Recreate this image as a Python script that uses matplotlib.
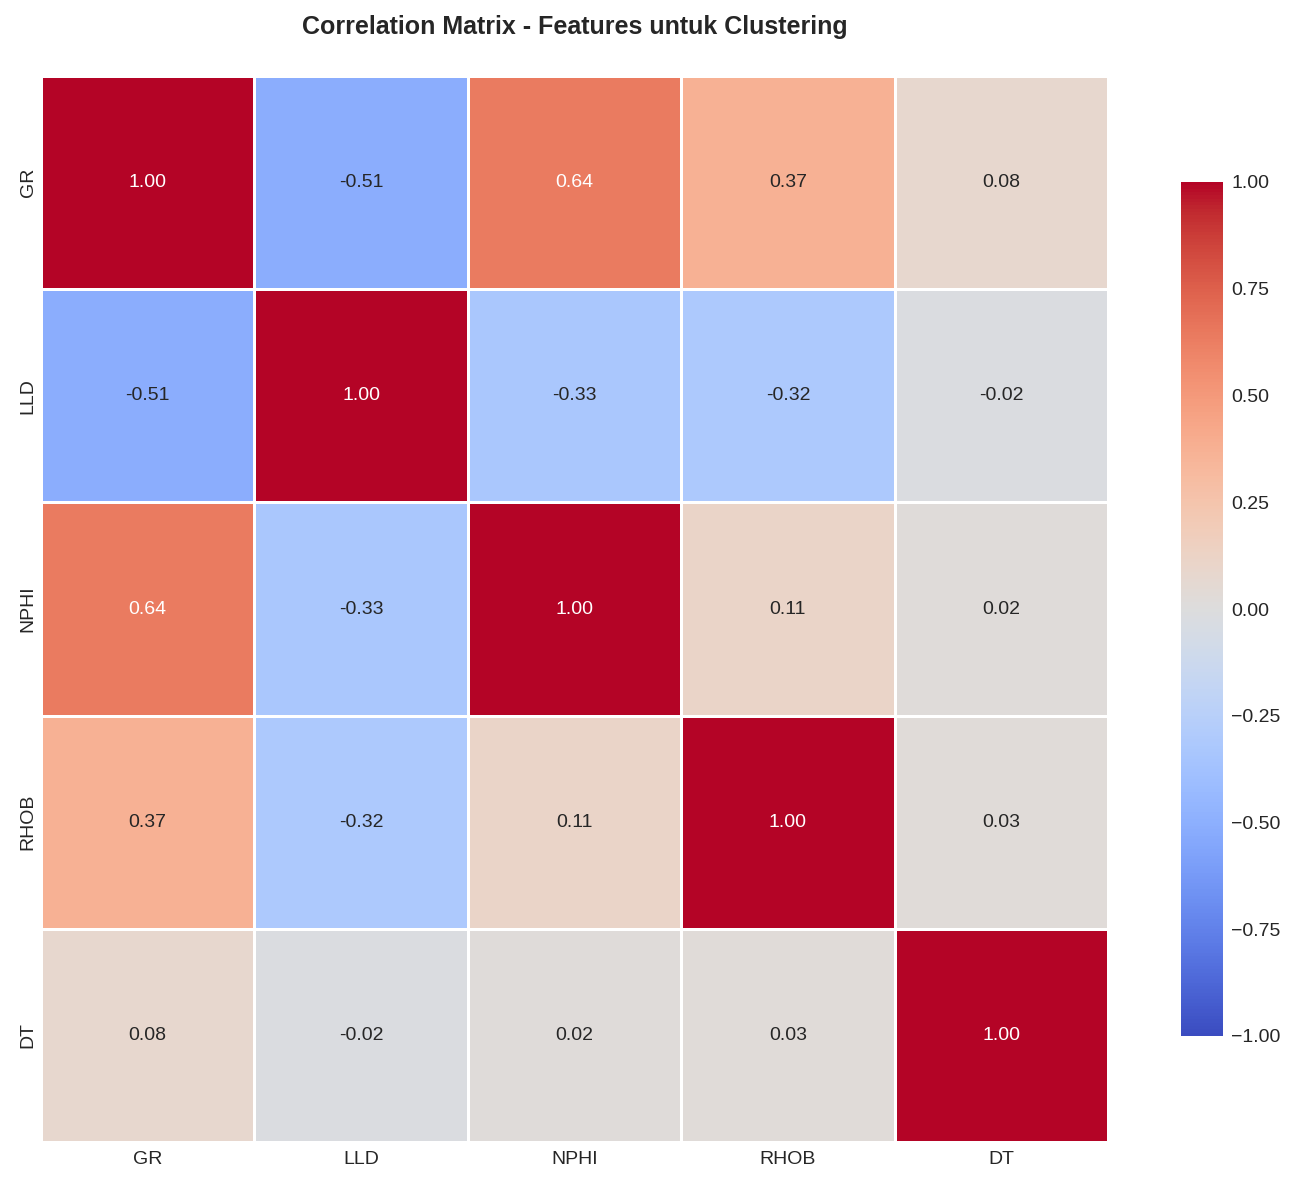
import matplotlib
matplotlib.use("Agg")
import matplotlib.pyplot as plt
import seaborn as sns
import numpy as np
import pandas as pd

features = ["GR", "LLD", "NPHI", "RHOB", "DT"]
row_GR = [1.00, -0.51, 0.64, 0.37, 0.08]
row_LLD = [-0.51, 1.00, -0.33, -0.32, -0.02]
row_NPHI = [0.64, -0.33, 1.00, 0.11, 0.02]
row_RHOB = [0.37, -0.32, 0.11, 1.00, 0.03]
row_DT = [0.08, -0.02, 0.02, 0.03, 1.00]

corr = pd.DataFrame([row_GR, row_LLD, row_NPHI, row_RHOB, row_DT],
                    index=features, columns=features)

plt.style.use("seaborn-v0_8-whitegrid")
plt.rcParams['font.family'] = ['Liberation Sans', 'DejaVu Sans']

fig = plt.figure(figsize=(12.98, 11.84), dpi=100)
ax = fig.add_axes([41/1298, 1 - 1142/1184, (1108-41)/1298, (1142-76)/1184])
cax = fig.add_axes([1181/1298, 1 - 1036/1184, (1223-1181)/1298, (1036-182)/1184])

sns.heatmap(corr, annot=True, fmt=".2f", cmap="coolwarm", center=0,
            vmin=-1, vmax=1, square=False, linewidths=2, linecolor="white",
            ax=ax, cbar_ax=cax, annot_kws={"size": 14})
ax.tick_params(axis='x', labelsize=14, length=0, pad=6.8)
ax.tick_params(axis='y', labelsize=14, length=0, pad=3.2)
cax.tick_params(labelsize=14, length=0, pad=6)
cax.grid(False)
for s in cax.spines.values():
    s.set_visible(False)
fig.suptitle("Correlation Matrix - Features untuk Clustering", fontsize=18,
             fontweight="bold", x=575/1298, y=1 - 27/1184, va="center")
fig.savefig("out.png", dpi=100)
